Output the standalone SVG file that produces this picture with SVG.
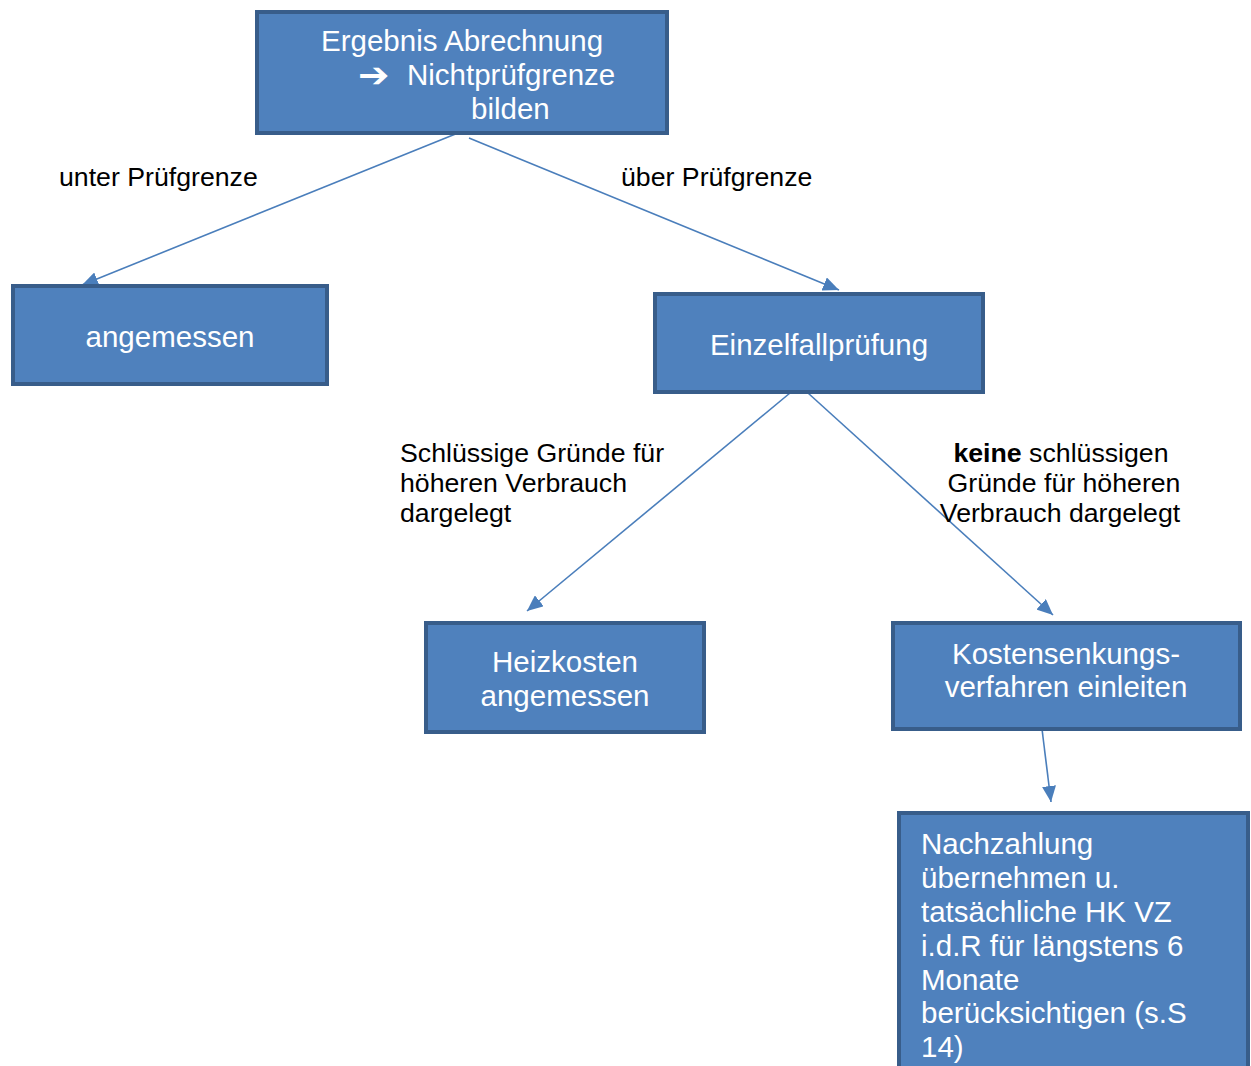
<svg xmlns="http://www.w3.org/2000/svg" width="1251" height="1066" viewBox="0 0 1251 1066">
<defs>
<style>
.box{fill:#4f81bd;stroke:#385d8a;stroke-width:4;}
.bt{font-family:"Liberation Sans",Arial,sans-serif;font-size:29.5px;fill:#ffffff;}
.lb{font-family:"Liberation Sans",Arial,sans-serif;font-size:26.7px;fill:#000000;}
.c{text-anchor:middle;}
.conn line{stroke:#4a7ebb;stroke-width:1.6;marker-end:url(#ah);}
</style>
<marker id="ah" markerUnits="userSpaceOnUse" markerWidth="18" markerHeight="14" refX="16" refY="7" orient="auto">
<path d="M0,0 L16,7 L0,14 Z" fill="#4a7ebb"/>
</marker>
</defs>
<rect width="1251" height="1066" fill="#ffffff"/>
<g id="connectors" class="conn">
<line x1="458" y1="133" x2="82" y2="285"/>
<line x1="469" y1="138" x2="839" y2="290"/>
<line x1="790" y1="393" x2="527" y2="611"/>
<line x1="808" y1="393" x2="1053" y2="615"/>
<line x1="1042" y1="729" x2="1051" y2="802"/>
</g>
<g id="n-ergebnis">
<rect class="box" x="257" y="12" width="410" height="121"/>
<text class="bt" x="321" y="51">Ergebnis Abrechnung</text>
<text x="0" y="0" transform="translate(358,87) scale(1.25,1.15)" style="font-family:'DejaVu Sans',sans-serif;font-size:30px;font-weight:bold;fill:#ffffff;">➔</text>
<text class="bt" x="407" y="85">Nichtprüfgrenze</text>
<text class="bt" x="471" y="119">bilden</text>
</g>
<g id="n-angemessen">
<rect class="box" x="13" y="286" width="314" height="98"/>
<text class="bt c" x="170" y="347">angemessen</text>
</g>
<g id="n-einzelfall">
<rect class="box" x="655" y="294" width="328" height="98"/>
<text class="bt c" x="819" y="355">Einzelfallprüfung</text>
</g>
<g id="n-heizkosten">
<rect class="box" x="426" y="623" width="278" height="109"/>
<text class="bt c" x="565" y="672">Heizkosten</text>
<text class="bt c" x="565" y="706">angemessen</text>
</g>
<g id="n-kostensenkung">
<rect class="box" x="893" y="623" width="347" height="106"/>
<text class="bt c" x="1066" y="664">Kostensenkungs-</text>
<text class="bt c" x="1066" y="697">verfahren einleiten</text>
</g>
<g id="n-nachzahlung">
<rect class="box" x="899" y="813" width="349" height="270"/>
<text class="bt" x="921" y="854">Nachzahlung</text>
<text class="bt" x="921" y="888">übernehmen u.</text>
<text class="bt" x="921" y="922">tatsächliche HK VZ</text>
<text class="bt" x="921" y="956">i.d.R für längstens 6</text>
<text class="bt" x="921" y="990">Monate</text>
<text class="bt" x="921" y="1023">berücksichtigen (s.S</text>
<text class="bt" x="921" y="1057">14)</text>
</g>
<g id="labels">
<text class="lb" x="59" y="186">unter Prüfgrenze</text>
<text class="lb" x="621" y="186">über Prüfgrenze</text>
<text class="lb" x="400" y="462">Schlüssige Gründe für</text>
<text class="lb" x="400" y="492">höheren Verbrauch</text>
<text class="lb" x="400" y="522">dargelegt</text>
<text class="lb c" x="1061" y="462"><tspan font-weight="bold">keine</tspan> schlüssigen</text>
<text class="lb c" x="1064" y="492">Gründe für höheren</text>
<text class="lb c" x="1060" y="522">Verbrauch dargelegt</text>
</g>
</svg>
